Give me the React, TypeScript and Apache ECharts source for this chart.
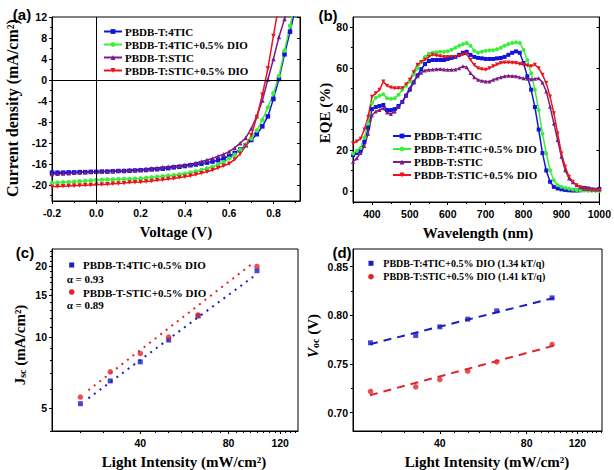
import React, { useEffect, useRef } from 'react';
import * as echarts from 'echarts';

// ---------- (a) J-V ----------
const voltage = [-0.2, -0.175, -0.15, -0.125, -0.1, -0.075, -0.05, -0.025, 0, 0.025, 0.05, 0.075, 0.1, 0.125, 0.15, 0.175, 0.2, 0.225, 0.25, 0.275, 0.3, 0.325, 0.35, 0.375, 0.4, 0.425, 0.45, 0.475, 0.5, 0.525, 0.55, 0.575, 0.6, 0.625, 0.65, 0.675, 0.7, 0.725, 0.75, 0.775, 0.8, 0.825, 0.85, 0.875, 0.9];
const jvBlue = [-17.6, -17.6, -17.6, -17.55, -17.55, -17.5, -17.5, -17.45, -17.45, -17.4, -17.4, -17.35, -17.3, -17.3, -17.25, -17.2, -17.15, -17.1, -17.0, -16.95, -16.85, -16.75, -16.6, -16.5, -16.35, -16.2, -16.05, -15.9, -15.7, -15.5, -15.25, -14.9, -14.5, -13.9, -13.2, -12.4, -11.4, -10.3, -8.8, -6.9, -3.6, 0.2, 4.9, 9.2, 13.8];
const jvGreen = [-19.55, -19.5, -19.45, -19.4, -19.35, -19.25, -19.2, -19.1, -19.0, -18.95, -18.9, -18.9, -18.85, -18.8, -18.8, -18.75, -18.7, -18.6, -18.5, -18.4, -18.3, -18.2, -18.1, -17.95, -17.8, -17.6, -17.4, -17.1, -16.8, -16.5, -16.1, -15.6, -14.9, -14.2, -13.3, -12.3, -11.1, -9.6, -7.6, -5.2, -2.5, 0.8, 5.6, 10.3, 15.0];
const jvPurple = [-17.85, -17.8, -17.75, -17.7, -17.65, -17.6, -17.55, -17.5, -17.45, -17.4, -17.35, -17.3, -17.25, -17.2, -17.1, -17.05, -17.0, -16.9, -16.8, -16.7, -16.6, -16.5, -16.4, -16.3, -16.15, -16.0, -15.75, -15.5, -15.2, -14.9, -14.5, -14.1, -13.6, -12.9, -12.0, -11.0, -9.2, -6.9, -3.9, 0.1, 4.0, 8.2, 11.6, 15.0];
const jvRed = [-20.3, -20.25, -20.2, -20.15, -20.1, -20.05, -20.0, -19.95, -19.9, -19.85, -19.8, -19.7, -19.65, -19.6, -19.5, -19.45, -19.4, -19.3, -19.2, -19.05, -18.95, -18.8, -18.7, -18.55, -18.4, -18.2, -17.95, -17.7, -17.45, -17.1, -16.7, -16.3, -15.9, -15.1, -14.0, -12.5, -10.5, -7.0, -2.8, 2.2, 8.4, 14.5];
const vTicks = [-0.2, 0, 0.2, 0.4, 0.6, 0.8];
const vMinor = [-0.1, 0.1, 0.3, 0.5, 0.7, 0.9];
const jTicks = [-20, -16, -12, -8, -4, 0, 4, 8, 12];
const jMinor = [-22, -18, -14, -10, -6, -2, 2, 6, 10];

// ---------- (b) EQE ----------
const wavelength = [350, 360, 370, 380, 390, 400, 410, 420, 430, 440, 450, 460, 470, 480, 490, 500, 510, 520, 530, 540, 550, 560, 570, 580, 590, 600, 610, 620, 630, 640, 650, 660, 670, 680, 690, 700, 710, 720, 730, 740, 750, 760, 770, 780, 790, 800, 810, 820, 830, 840, 850, 860, 870, 880, 890, 900, 910, 920, 930, 940, 950, 960, 970, 980, 990, 1000];
const eqeBlue = [17.5, 18.5, 19.5, 24, 31, 40, 41, 41.5, 42, 39.5, 39.5, 40, 41.5, 43.5, 46.5, 49.5, 53, 56.5, 59.5, 62, 63.5, 64, 64, 64, 64, 64.5, 65, 65.5, 66.5, 67.5, 68, 66.5, 65.5, 65, 64.8, 64.5, 64.5, 64.5, 64.8, 65, 65.5, 66.5, 67.5, 68.2, 67.5, 62.5, 56, 49.5, 41, 30, 18.5, 10, 4.5, 2, 1.2, 0.8, 0.5, 0.3, 0.2, 0.2, 0.3, 1.5, 1.2, 0.8, 0.6, 1.0];
const eqeGreen = [18.3, 19.5, 21, 26, 33, 43, 45.5, 46.5, 47.3, 45.3, 45, 45.3, 47, 49.4, 51.5, 53.5, 57, 60, 63, 65.5, 67, 67.5, 67.8, 68, 68, 68.3, 69, 70, 71, 71.7, 72.3, 71, 68.5, 67.5, 68, 68.5, 68.7, 68.8, 69.2, 70, 71, 71.8, 72.3, 72.6, 72.3, 69, 64, 57.5, 49.5, 39.5, 28, 18.3, 10.1, 5.2, 2.8, 2, 1.5, 1.1, 0.7, 0.5, 0.3, 0.2, 0.1, 0.1, 0.1, 0];
const eqePurple = [14.2, 16, 18.5, 22, 28, 37, 38.8, 39.6, 40.4, 38.3, 37.6, 38.8, 41, 43.7, 47, 50.2, 53.5, 56, 57.8, 58.9, 59.2, 59.3, 59.5, 59.6, 59.4, 59.2, 59.2, 59.3, 60, 60.9, 60.4, 57.6, 55.5, 54.3, 53.8, 53.5, 53.5, 54.3, 55, 55.6, 56, 56.3, 56.2, 56, 55.5, 55.1, 54.8, 54.6, 54.8, 55.1, 53, 48.6, 41.2, 33, 24.9, 16.7, 10.1, 6.1, 4.2, 2.8, 1.8, 1.1, 0.9, 0.8, 0.7, 0.7];
const eqeRed = [23.2, 24.2, 25.5, 30, 36.3, 46, 47.8, 49.4, 53.5, 51.4, 50.5, 50.2, 50.2, 50.2, 52, 54.3, 58, 61.7, 63, 64.1, 65.5, 66.6, 66.2, 65.8, 65.5, 65.4, 65.4, 65.4, 66, 66.6, 66.9, 64.1, 61.5, 60, 59.5, 59.2, 60, 60.9, 61.8, 62.5, 62.8, 62.8, 62.7, 62.5, 62, 61.7, 61.3, 60.9, 61.7, 60, 56.8, 52.7, 46.1, 38, 28.1, 18.3, 11.8, 6.9, 4.5, 2.8, 1.8, 1.1, 0.7, 0.5, 0.3, 0.3];
const wlTicks = [400, 500, 600, 700, 800, 900, 1000];
const wlMinor = [350, 450, 550, 650, 750, 850, 950];
const eqeTicks = [0, 20, 40, 60, 80];
const eqeMinor = [10, 30, 50, 70];

// ---------- (c) Jsc vs light intensity ----------
const intensityC = [25, 31.6, 40, 50, 63, 100];
const jscBlue = [5.22, 6.52, 7.85, 9.71, 12.28, 19.1];
const jscRed = [5.57, 7.12, 8.52, 10.0, 12.4, 19.9];
const fitIntensityC = [26.6, 97];
const fitJscBlue = [5.5, 18.0];
const fitJscRed = [5.95, 20.6];
const jscTicks = [5, 10, 15, 20];
const jscMinor = [4, 6, 7, 8, 9, 11, 12, 13, 14, 16, 17, 18, 19, 21, 22, 23];

// ---------- (d) Voc vs light intensity ----------
const intensityD = [23, 33, 40, 50, 63, 98];
const vocBlue = [0.7716, 0.7791, 0.788, 0.7959, 0.8045, 0.8178];
const vocRed = [0.7216, 0.7264, 0.7339, 0.7425, 0.752, 0.7699];
const fitIntensityD = [22.9, 101];
const fitVocBlue = [0.7702, 0.8182];
const fitVocRed = [0.7178, 0.7692];
const vocTicks = [0.7, 0.75, 0.8, 0.85];
const vocMinor = [0.725, 0.775, 0.825];

const intensityTicks = [40, 80, 120];
const intensityMinor = [25, 30, 35, 45, 50, 55, 60, 65, 70, 75, 85, 90, 95, 100, 105, 110, 115, 125, 130, 135, 140, 145];

const NAMES = ['PBDB-T:4TIC', 'PBDB-T:4TIC+0.5% DIO', 'PBDB-T:STIC', 'PBDB-T:STIC+0.5% DIO'];
const COLORS = ['#1414d8', '#3cee3c', '#7b1d84', '#e8141c'];
const SYMBOLS = ['rect', 'circle', 'triangle', 'triangle'];
const ROTATE = [0, 0, 0, 180];
const C_BLUE = '#1c1cc0';
const C_RED = '#e0242a';

const SERIF = '"Liberation Serif", "Times New Roman", serif';
const SANS = '"Liberation Sans", Arial, sans-serif';
const tickFont = { fontFamily: SANS, fontWeight: 'bold', fontSize: 10.5, color: '#000' };
const black = { color: '#000', width: 1 };
const L10 = (v: number) => Math.log10(v);

function ax(gridIndex: number, o: any) {
  return {
    type: o.type || 'value',
    gridIndex,
    min: o.min,
    max: o.max,
    position: o.position,
    logBase: o.logBase,
    axisLine: { show: !!o.line, onZero: false, lineStyle: black },
    axisTick: o.ticks
      ? { show: true, customValues: o.ticks, length: o.len ?? 3, inside: !!o.inside, lineStyle: black }
      : { show: false },
    axisLabel: o.labels
      ? { show: true, customValues: o.ticks, formatter: o.fmt, margin: o.margin ?? 5, ...tickFont }
      : { show: false },
    minorTick: { show: false },
    splitLine: { show: false },
    minorSplitLine: { show: false },
  };
}

const logFmt = (v: number) => String(Math.round(Math.pow(10, v)));

function txt(x: number, y: number, text: string, font: string, extra: any = {}) {
  return {
    type: 'text',
    x,
    y,
    rotation: extra.rotation || 0,
    z: 20,
    style: { text, font, fill: '#000', align: extra.align || 'center', verticalAlign: 'middle', rich: extra.rich },
  };
}

export default function App() {
  const ref = useRef<HTMLDivElement>(null);
  useEffect(() => {
    if (!ref.current) return;
    const chart = echarts.init(ref.current, undefined, { renderer: 'svg' });

    const xAxis = [
      ax(0, { min: -0.2, max: 0.92, position: 'bottom', line: true, ticks: vTicks, labels: true, fmt: (v: number) => v.toFixed(1), margin: 6 }),
      ax(0, { min: -0.2, max: 0.92, position: 'bottom', ticks: vMinor, len: 2 }),
      ax(1, { min: 350, max: 1000, position: 'bottom', line: true, ticks: wlTicks, labels: true, fmt: (v: number) => String(v), margin: 6 }),
      ax(1, { min: 350, max: 1000, position: 'bottom', ticks: wlMinor, len: 2 }),
      ax(2, { type: 'log', logBase: 10, min: 20, max: 138, position: 'bottom', line: true }),
      ax(2, { min: L10(20), max: L10(138), position: 'bottom', ticks: intensityTicks.map(L10), labels: true, fmt: logFmt, margin: 6 }),
      ax(2, { min: L10(20), max: L10(138), position: 'bottom', ticks: intensityMinor.map(L10), len: 2 }),
      ax(3, { type: 'log', logBase: 10, min: 20, max: 146, position: 'bottom', line: true }),
      ax(3, { min: L10(20), max: L10(146), position: 'bottom', ticks: intensityTicks.map(L10), labels: true, fmt: logFmt, margin: 6 }),
      ax(3, { min: L10(20), max: L10(146), position: 'bottom', ticks: intensityMinor.map(L10), len: 2 }),
    ];
    const yAxis = [
      ax(0, { min: -23, max: 12, position: 'left', line: true, ticks: jTicks, labels: true, fmt: (v: number) => String(v), margin: 5 }),
      ax(0, { min: -23, max: 12, position: 'left', ticks: jMinor, len: 2 }),
      ax(0, { min: -23, max: 12, position: 'right', line: true, ticks: jTicks, inside: true }),
      ax(1, { min: -5.4, max: 85, position: 'left', line: true, ticks: eqeTicks, labels: true, fmt: (v: number) => String(v), margin: 5 }),
      ax(1, { min: -5.4, max: 85, position: 'left', ticks: eqeMinor, len: 2 }),
      ax(1, { min: -5.4, max: 85, position: 'right', line: true, ticks: eqeTicks, inside: true }),
      ax(2, { type: 'log', logBase: 10, min: 4, max: 23.6, position: 'left', line: true }),
      ax(2, { min: L10(4), max: L10(23.6), position: 'left', ticks: jscTicks.map(L10), labels: true, fmt: logFmt, margin: 5 }),
      ax(2, { min: L10(4), max: L10(23.6), position: 'left', ticks: jscMinor.map(L10), len: 2 }),
      ax(3, { min: 0.681, max: 0.868, position: 'left', line: true, ticks: vocTicks, labels: true, fmt: (v: number) => v.toFixed(2), margin: 5 }),
      ax(3, { min: 0.681, max: 0.868, position: 'left', ticks: vocMinor, len: 2 }),
    ];

    const gridBase = { show: true, borderColor: '#000', borderWidth: 1, backgroundColor: 'transparent' };
    const grid = [
      { ...gridBase, left: 52, top: 17, width: 248, height: 184 },
      { ...gridBase, left: 353, top: 17, width: 249, height: 185 },
      { ...gridBase, left: 52, top: 249, width: 246, height: 182 },
      { ...gridBase, left: 353, top: 249, width: 249, height: 182 },
    ];

    const jvSeries: any[] = [jvBlue, jvGreen, jvPurple, jvRed].map((arr, k) => ({
      type: 'line',
      name: NAMES[k],
      xAxisIndex: 0,
      yAxisIndex: 0,
      data: arr.map((j, i) => [voltage[i], j]),
      symbol: SYMBOLS[k],
      symbolRotate: ROTATE[k],
      symbolSize: 4.5,
      lineStyle: { color: COLORS[k], width: 1.5 },
      itemStyle: { color: COLORS[k] },
      clip: true,
      z: 3,
    }));
    jvSeries[0].markLine = {
      silent: true,
      symbol: ['none', 'none'],
      label: { show: false },
      lineStyle: { color: '#000', type: 'solid', width: 1 },
      data: [{ yAxis: 0 }, { xAxis: 0 }],
    };

    const eqeSeries = [eqeBlue, eqeGreen, eqePurple, eqeRed].map((arr, k) => ({
      type: 'line',
      name: NAMES[k],
      xAxisIndex: 2,
      yAxisIndex: 3,
      data: arr.map((e, i) => [wavelength[i], e]),
      symbol: SYMBOLS[k],
      symbolRotate: ROTATE[k],
      symbolSize: 4,
      lineStyle: { color: COLORS[k], width: 1.5 },
      itemStyle: { color: COLORS[k] },
      clip: true,
      z: 3,
    }));

    const cSeries = [
      { type: 'line', name: 'fitC1', xAxisIndex: 4, yAxisIndex: 6, data: fitIntensityC.map((x, i) => [x, fitJscBlue[i]]), symbol: 'none', lineStyle: { color: C_BLUE, width: 2, type: [2, 5] }, z: 2 },
      { type: 'line', name: 'fitC2', xAxisIndex: 4, yAxisIndex: 6, data: fitIntensityC.map((x, i) => [x, fitJscRed[i]]), symbol: 'none', lineStyle: { color: C_RED, width: 2, type: [2, 5] }, z: 2 },
      { type: 'scatter', name: 'c-blue', xAxisIndex: 4, yAxisIndex: 6, data: intensityC.map((x, i) => [x, jscBlue[i]]), symbol: 'rect', symbolSize: 5, itemStyle: { color: C_BLUE }, z: 4 },
      { type: 'scatter', name: 'c-red', xAxisIndex: 4, yAxisIndex: 6, data: intensityC.map((x, i) => [x, jscRed[i]]), symbol: 'circle', symbolSize: 5.5, itemStyle: { color: C_RED }, z: 4 },
    ];
    const dSeries = [
      { type: 'line', name: 'fitD1', xAxisIndex: 7, yAxisIndex: 9, data: fitIntensityD.map((x, i) => [x, fitVocBlue[i]]), symbol: 'none', lineStyle: { color: C_BLUE, width: 2, type: [8, 6] }, z: 2 },
      { type: 'line', name: 'fitD2', xAxisIndex: 7, yAxisIndex: 9, data: fitIntensityD.map((x, i) => [x, fitVocRed[i]]), symbol: 'none', lineStyle: { color: C_RED, width: 2, type: [8, 6] }, z: 2 },
      { type: 'scatter', name: 'd-blue', xAxisIndex: 7, yAxisIndex: 9, data: intensityD.map((x, i) => [x, vocBlue[i]]), symbol: 'rect', symbolSize: 5, itemStyle: { color: C_BLUE }, z: 4 },
      { type: 'scatter', name: 'd-red', xAxisIndex: 7, yAxisIndex: 9, data: intensityD.map((x, i) => [x, vocRed[i]]), symbol: 'circle', symbolSize: 5.5, itemStyle: { color: C_RED }, z: 4 },
    ];

    const legendBase = {
      orient: 'vertical',
      data: NAMES,
      itemWidth: 18,
      itemHeight: 6,
      itemGap: 2,
      padding: 0,
      selectedMode: false,
      textStyle: { fontFamily: SERIF, fontWeight: 'bold', fontSize: 11, color: '#000', padding: [0, 0, 0, -2] },
    };

    const titleFont = `bold 15px ${SERIF}`;
    const bigTitleFont = `bold 16px ${SERIF}`;
    const labFont = `bold 15px ${SANS}`;
    const legFontC = `bold 11px ${SERIF}`;
    const legFontD = `bold 10px ${SERIF}`;

    const graphic: any[] = [
      txt(22, 14, '(a)', labFont),
      txt(328, 15, '(b)', labFont),
      txt(25, 252, '(c)', labFont),
      txt(342, 252, '(d)', labFont),
      txt(176, 232, 'Voltage (V)', titleFont),
      txt(478, 233, 'Wavelength (nm)', titleFont),
      txt(184, 462, 'Light Intensity (mW/cm²)', titleFont),
      txt(487, 462, 'Light Intensity (mW/cm²)', titleFont),
      txt(12, 108, 'Current density (mA/cm²)', bigTitleFont, { rotation: Math.PI / 2 }),
      txt(325, 113, 'EQE (%)', titleFont, { rotation: Math.PI / 2 }),
      txt(20, 345, '{a|J}{s|sc}{a| (mA/cm²)}', titleFont, {
        rotation: Math.PI / 2,
        rich: { a: { font: titleFont }, s: { font: `bold 10px ${SERIF}`, verticalAlign: 'bottom' } },
      }),
      txt(313, 336, '{i|V}{s|oc}{a| (V)}', titleFont, {
        rotation: Math.PI / 2,
        rich: { i: { font: `italic bold 15px ${SERIF}` }, a: { font: titleFont }, s: { font: `bold 10px ${SERIF}`, verticalAlign: 'bottom' } },
      }),
      // (c) legend
      { type: 'rect', shape: { x: 69.2, y: 262.5, width: 5, height: 5 }, style: { fill: C_BLUE }, z: 20 },
      txt(83, 265, 'PBDB-T:4TIC+0.5% DIO', legFontC, { align: 'left' }),
      txt(66.7, 278.5, 'α = 0.93', legFontC, { align: 'left' }),
      { type: 'circle', shape: { cx: 71.7, cy: 292, r: 2.8 }, style: { fill: C_RED }, z: 20 },
      txt(83, 292.5, 'PBDB-T-STIC+0.5% DIO', legFontC, { align: 'left' }),
      txt(66.7, 305, 'α = 0.89', legFontC, { align: 'left' }),
      // (d) legend
      { type: 'rect', shape: { x: 368.5, y: 260.8, width: 5, height: 5 }, style: { fill: C_BLUE }, z: 20 },
      txt(383.3, 263.3, 'PBDB-T:4TIC+0.5% DIO (1.34 kT/q)', legFontD, { align: 'left' }),
      { type: 'circle', shape: { cx: 371, cy: 276.7, r: 2.8 }, style: { fill: C_RED }, z: 20 },
      txt(383.3, 276.7, 'PBDB-T:STIC+0.5% DIO (1.41 kT/q)', legFontD, { align: 'left' }),
    ];

    chart.setOption({
      animation: false,
      backgroundColor: '#fff',
      grid,
      xAxis,
      yAxis,
      legend: [
        { ...legendBase, left: 103, top: 26 },
        { ...legendBase, left: 392, top: 130.5 },
      ],
      series: [...jvSeries, ...eqeSeries, ...cSeries, ...dSeries],
      graphic,
    });
    return () => chart.dispose();
  }, []);
  return <div ref={ref} style={{ position: 'fixed', left: 0, top: 0, width: 614, height: 470, background: '#fff' }} />;
}
